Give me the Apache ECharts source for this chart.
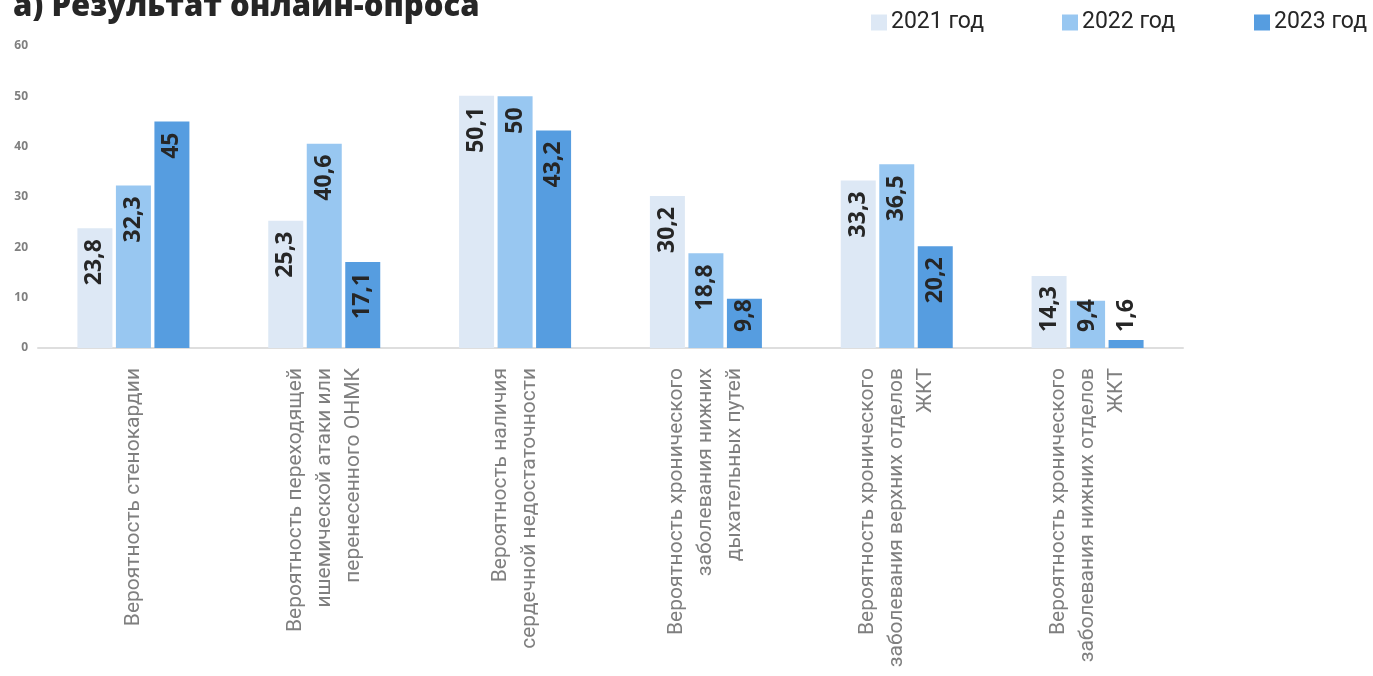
<!DOCTYPE html>
<html>
<head>
<meta charset="utf-8">
<script src="https://cdn.jsdelivr.net/npm/echarts@6/dist/echarts.min.js"></script>
<style>
  html, body { margin: 0; padding: 0; background: #ffffff; }
  #chart { width: 1373px; height: 676px; }
</style>
</head>
<body>
<div id="chart"></div>
<script>
// Survey results: share of respondents by condition and year
const categories = [
  'Вероятность стенокардии',
  'Вероятность переходящей\nишемической атаки или\nперенесенного ОНМК',
  'Вероятность наличия\nсердечной недостаточности',
  'Вероятность хронического\nзаболевания нижних\nдыхательных путей',
  'Вероятность хронического\nзаболевания верхних отделов\nЖКТ',
  'Вероятность хронического\nзаболевания нижних отделов\nЖКТ'
];
const seriesNames = ['2021 год', '2022 год', '2023 год'];
const values2021 = [23.8, 25.3, 50.1, 30.2, 33.3, 14.3];
const values2022 = [32.3, 40.6, 50, 18.8, 36.5, 9.4];
const values2023 = [45, 17.1, 43.2, 9.8, 20.2, 1.6];
const yTicks = [0, 10, 20, 30, 40, 50, 60];

const colors = ['#dde8f5', '#98c7f1', '#569de0'];
const valueLists = [values2021, values2022, values2023];

const LABEL_FONT = 'bold 23px "Open Sans"';
const TOP_GAP = 11;     // gap between bar end and value label
const BOTTOM_GAP = 16;  // gap from baseline when label does not fit

const fmt = v => String(v).replace('.', ',');

const chart = echarts.init(document.getElementById('chart'), null, { renderer: 'canvas' });

const labelBase = {
  show: true,
  rotate: 90,
  color: '#262626',
  fontFamily: 'Open Sans',
  fontWeight: 'bold',
  fontSize: 23,
  formatter: p => fmt(p.value)
};

function buildSeries(labelFor) {
  return seriesNames.map((name, si) => ({
    name,
    type: 'bar',
    barWidth: 35,
    barGap: '10%',
    itemStyle: { color: colors[si] },
    label: Object.assign({}, labelBase, {
      position: 'insideTop', align: 'right', verticalAlign: 'middle', distance: TOP_GAP
    }),
    data: valueLists[si].map((v, i) => labelFor ? { value: v, label: labelFor(si, i, v) } : v)
  }));
}

const option = {
  animation: false,
  backgroundColor: '#ffffff',
  title: {
    text: 'а) Результат онлайн-опроса',
    left: 8,
    top: -13,
    textStyle: {
      fontFamily: 'Open Sans',
      fontWeight: 800,
      fontSize: 31,
      color: '#262626'
    }
  },
  legend: seriesNames.map((name, i) => ({
    data: [name],
    left: [871, 1062, 1254][i],
    top: 11,
    padding: 0,
    itemWidth: 16,
    itemHeight: 16,
    itemGap: 0,
    icon: 'rect',
    textStyle: { fontFamily: 'Roboto', fontSize: 23, color: '#262626', padding: [0, 0, 0, -1] }
  })),
  grid: { left: 38, right: 190, top: 46, bottom: 328, containLabel: false },
  xAxis: {
    type: 'category',
    data: categories,
    axisLine: { show: true, lineStyle: { color: '#dedede', width: 2 } },
    axisTick: { show: false },
    axisLabel: {
      interval: 0,
      rotate: 90,
      margin: 20,
      fontFamily: 'Roboto',
      fontSize: 21,
      lineHeight: 29,
      color: '#7f7f7f'
    }
  },
  yAxis: {
    type: 'value',
    min: yTicks[0],
    max: yTicks[yTicks.length - 1],
    interval: yTicks[1] - yTicks[0],
    splitLine: { show: false },
    axisLine: { show: false },
    axisTick: { show: false },
    axisLabel: {
      margin: 10,
      fontFamily: 'Open Sans',
      fontWeight: 'bold',
      fontSize: 12,
      color: '#7f7f7f'
    }
  },
  series: buildSeries(null)
};

chart.setOption(option);

// Second pass: labels that do not fit inside the bar are anchored near the baseline
const ctx = document.createElement('canvas').getContext('2d');
ctx.font = LABEL_FONT;
const zeroPx = chart.convertToPixel({ yAxisIndex: 0 }, 0);
chart.setOption({
  series: buildSeries((si, i, v) => {
    const barH = zeroPx - chart.convertToPixel({ yAxisIndex: 0 }, v);
    const textW = ctx.measureText(fmt(v)).width;
    if (barH >= textW + TOP_GAP + BOTTOM_GAP) return {};
    return { position: 'insideBottom', align: 'left', verticalAlign: 'middle', distance: BOTTOM_GAP };
  })
});
</script>
</body>
</html>
